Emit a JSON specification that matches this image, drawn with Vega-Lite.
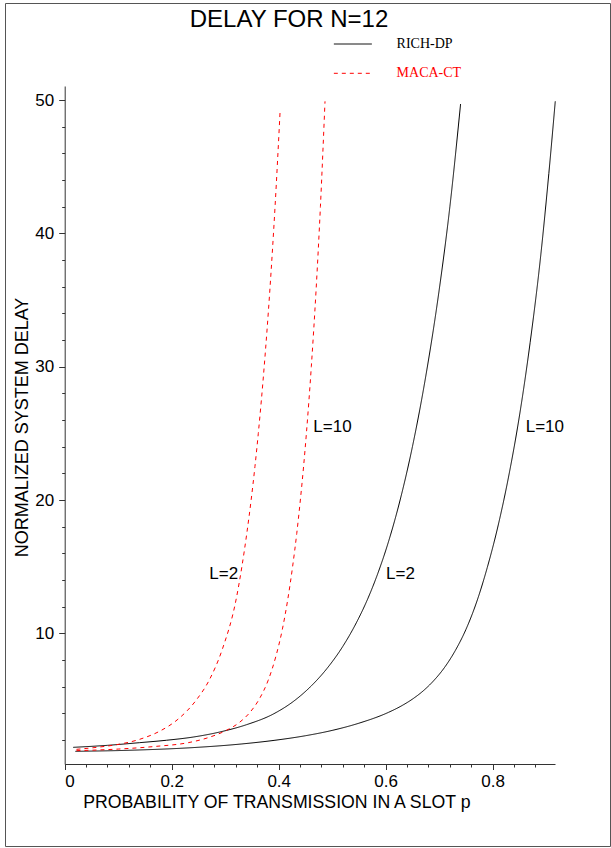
{
  "$schema": "https://vega.github.io/schema/vega-lite/v6.json",
  "autosize": "none",
  "padding": {"left": 5, "top": 3, "right": 1, "bottom": 2},
  "width": 605,
  "height": 843,
  "config": {
    "font": "Liberation Sans",
    "view": {"stroke": "#555", "strokeWidth": 1}
  },
  "datasets": {
    "curves": [
      {"protocol": "RICH-DP", "L": 2, "p": 0.016, "delay": 1.45},
      {"protocol": "RICH-DP", "L": 2, "p": 0.08, "delay": 1.6},
      {"protocol": "RICH-DP", "L": 2, "p": 0.14, "delay": 1.8},
      {"protocol": "RICH-DP", "L": 2, "p": 0.19, "delay": 1.98},
      {"protocol": "RICH-DP", "L": 2, "p": 0.24, "delay": 2.22},
      {"protocol": "RICH-DP", "L": 2, "p": 0.29, "delay": 2.6},
      {"protocol": "RICH-DP", "L": 2, "p": 0.34, "delay": 3.15},
      {"protocol": "RICH-DP", "L": 2, "p": 0.39, "delay": 3.95},
      {"protocol": "RICH-DP", "L": 2, "p": 0.431, "delay": 5.0},
      {"protocol": "RICH-DP", "L": 2, "p": 0.46, "delay": 6.02},
      {"protocol": "RICH-DP", "L": 2, "p": 0.49, "delay": 7.35},
      {"protocol": "RICH-DP", "L": 2, "p": 0.52, "delay": 9.03},
      {"protocol": "RICH-DP", "L": 2, "p": 0.545, "delay": 10.78},
      {"protocol": "RICH-DP", "L": 2, "p": 0.5655, "delay": 12.5},
      {"protocol": "RICH-DP", "L": 2, "p": 0.585, "delay": 14.46},
      {"protocol": "RICH-DP", "L": 2, "p": 0.605, "delay": 16.84},
      {"protocol": "RICH-DP", "L": 2, "p": 0.627, "delay": 20.0},
      {"protocol": "RICH-DP", "L": 2, "p": 0.65, "delay": 24.0},
      {"protocol": "RICH-DP", "L": 2, "p": 0.675, "delay": 29.3},
      {"protocol": "RICH-DP", "L": 2, "p": 0.7, "delay": 35.75},
      {"protocol": "RICH-DP", "L": 2, "p": 0.72, "delay": 42.0},
      {"protocol": "RICH-DP", "L": 2, "p": 0.74, "delay": 49.7},

      {"protocol": "RICH-DP", "L": 10, "p": 0.02, "delay": 1.15},
      {"protocol": "RICH-DP", "L": 10, "p": 0.13, "delay": 1.24},
      {"protocol": "RICH-DP", "L": 10, "p": 0.24, "delay": 1.43},
      {"protocol": "RICH-DP", "L": 10, "p": 0.33, "delay": 1.7},
      {"protocol": "RICH-DP", "L": 10, "p": 0.393, "delay": 1.98},
      {"protocol": "RICH-DP", "L": 10, "p": 0.45, "delay": 2.32},
      {"protocol": "RICH-DP", "L": 10, "p": 0.5, "delay": 2.72},
      {"protocol": "RICH-DP", "L": 10, "p": 0.55, "delay": 3.26},
      {"protocol": "RICH-DP", "L": 10, "p": 0.6056, "delay": 4.08},
      {"protocol": "RICH-DP", "L": 10, "p": 0.63, "delay": 4.57},
      {"protocol": "RICH-DP", "L": 10, "p": 0.653, "delay": 5.15},
      {"protocol": "RICH-DP", "L": 10, "p": 0.67, "delay": 5.68},
      {"protocol": "RICH-DP", "L": 10, "p": 0.69, "delay": 6.46},
      {"protocol": "RICH-DP", "L": 10, "p": 0.71, "delay": 7.44},
      {"protocol": "RICH-DP", "L": 10, "p": 0.73, "delay": 8.7},
      {"protocol": "RICH-DP", "L": 10, "p": 0.75, "delay": 10.29},
      {"protocol": "RICH-DP", "L": 10, "p": 0.7713, "delay": 12.5},
      {"protocol": "RICH-DP", "L": 10, "p": 0.79, "delay": 14.95},
      {"protocol": "RICH-DP", "L": 10, "p": 0.81, "delay": 18.05},
      {"protocol": "RICH-DP", "L": 10, "p": 0.83, "delay": 21.8},
      {"protocol": "RICH-DP", "L": 10, "p": 0.85, "delay": 26.3},
      {"protocol": "RICH-DP", "L": 10, "p": 0.87, "delay": 31.8},
      {"protocol": "RICH-DP", "L": 10, "p": 0.89, "delay": 38.4},
      {"protocol": "RICH-DP", "L": 10, "p": 0.905, "delay": 44.5},
      {"protocol": "RICH-DP", "L": 10, "p": 0.917, "delay": 49.9},

      {"protocol": "MACA-CT", "L": 2, "p": 0.022, "delay": 1.3},
      {"protocol": "MACA-CT", "L": 2, "p": 0.06, "delay": 1.45},
      {"protocol": "MACA-CT", "L": 2, "p": 0.097, "delay": 1.65},
      {"protocol": "MACA-CT", "L": 2, "p": 0.14, "delay": 2.05},
      {"protocol": "MACA-CT", "L": 2, "p": 0.178, "delay": 2.67},
      {"protocol": "MACA-CT", "L": 2, "p": 0.21, "delay": 3.5},
      {"protocol": "MACA-CT", "L": 2, "p": 0.246, "delay": 5.0},
      {"protocol": "MACA-CT", "L": 2, "p": 0.27, "delay": 6.48},
      {"protocol": "MACA-CT", "L": 2, "p": 0.295, "delay": 8.85},
      {"protocol": "MACA-CT", "L": 2, "p": 0.3202, "delay": 12.5},
      {"protocol": "MACA-CT", "L": 2, "p": 0.3312, "delay": 15.0},
      {"protocol": "MACA-CT", "L": 2, "p": 0.3404, "delay": 17.5},
      {"protocol": "MACA-CT", "L": 2, "p": 0.3485, "delay": 20.0},
      {"protocol": "MACA-CT", "L": 2, "p": 0.3556, "delay": 22.5},
      {"protocol": "MACA-CT", "L": 2, "p": 0.3619, "delay": 25.0},
      {"protocol": "MACA-CT", "L": 2, "p": 0.3729, "delay": 30.0},
      {"protocol": "MACA-CT", "L": 2, "p": 0.3835, "delay": 35.75},
      {"protocol": "MACA-CT", "L": 2, "p": 0.3932, "delay": 42.0},
      {"protocol": "MACA-CT", "L": 2, "p": 0.4027, "delay": 49.2},

      {"protocol": "MACA-CT", "L": 10, "p": 0.022, "delay": 1.2},
      {"protocol": "MACA-CT", "L": 10, "p": 0.1, "delay": 1.32},
      {"protocol": "MACA-CT", "L": 10, "p": 0.17, "delay": 1.52},
      {"protocol": "MACA-CT", "L": 10, "p": 0.231, "delay": 1.8},
      {"protocol": "MACA-CT", "L": 10, "p": 0.27, "delay": 2.2},
      {"protocol": "MACA-CT", "L": 10, "p": 0.3, "delay": 2.68},
      {"protocol": "MACA-CT", "L": 10, "p": 0.327, "delay": 3.33},
      {"protocol": "MACA-CT", "L": 10, "p": 0.346, "delay": 4.06},
      {"protocol": "MACA-CT", "L": 10, "p": 0.3634, "delay": 5.05},
      {"protocol": "MACA-CT", "L": 10, "p": 0.38, "delay": 6.44},
      {"protocol": "MACA-CT", "L": 10, "p": 0.395, "delay": 8.31},
      {"protocol": "MACA-CT", "L": 10, "p": 0.407, "delay": 10.33},
      {"protocol": "MACA-CT", "L": 10, "p": 0.4168, "delay": 12.5},
      {"protocol": "MACA-CT", "L": 10, "p": 0.426, "delay": 15.0},
      {"protocol": "MACA-CT", "L": 10, "p": 0.4338, "delay": 17.5},
      {"protocol": "MACA-CT", "L": 10, "p": 0.4405, "delay": 20.0},
      {"protocol": "MACA-CT", "L": 10, "p": 0.4465, "delay": 22.5},
      {"protocol": "MACA-CT", "L": 10, "p": 0.4518, "delay": 25.0},
      {"protocol": "MACA-CT", "L": 10, "p": 0.461, "delay": 30.0},
      {"protocol": "MACA-CT", "L": 10, "p": 0.4699, "delay": 35.75},
      {"protocol": "MACA-CT", "L": 10, "p": 0.478, "delay": 42.0},
      {"protocol": "MACA-CT", "L": 10, "p": 0.4866, "delay": 49.9}
    ],
    "labels": [
      {"label": "L=2", "p": 0.2703, "delay": 14.46},
      {"label": "L=10", "p": 0.4647, "delay": 25.5},
      {"label": "L=2", "p": 0.6006, "delay": 14.46},
      {"label": "L=10", "p": 0.8617, "delay": 25.5}
    ],
    "heading": [
      {"text": "DELAY FOR N=12"}
    ]
  },
  "layer": [
    {
      "data": {"name": "curves"},
      "mark": {"type": "line", "strokeWidth": 1, "interpolate": "monotone"},
      "encoding": {
        "x": {
          "field": "p",
          "type": "quantitative",
          "scale": {"domain": [0, 0.9165], "range": [59.7, 550], "nice": false, "zero": false},
          "axis": {
            "orient": "bottom",
            "offset": -82,
            "values": [0, 0.2, 0.4, 0.6, 0.8],
            "format": "~g",
            "grid": false,
            "domainColor": "#333",
            "tickColor": "#333",
            "tickSize": 5.5,
            "labelFont": "Liberation Sans",
            "labelFontSize": 17,
            "labelColor": "black",
            "labelPadding": 4,
            "labelFlush": true,
            "title": "PROBABILITY OF TRANSMISSION IN A SLOT p",
            "titleFont": "Liberation Sans",
            "titleFontSize": 17.7,
            "titleFontWeight": "normal",
            "titleColor": "black",
            "titleAlign": "left",
            "titleBaseline": "alphabetic",
            "titleX": 77.7,
            "titleY": 43.3
          }
        },
        "y": {
          "field": "delay",
          "type": "quantitative",
          "scale": {"domain": [0.2, 51.05], "range": [761, 83], "nice": false, "zero": false},
          "axis": {
            "orient": "left",
            "offset": -59.7,
            "values": [10, 20, 30, 40, 50],
            "grid": false,
            "domainColor": "#333",
            "tickColor": "#333",
            "tickSize": 6,
            "labelFont": "Liberation Sans",
            "labelFontSize": 17,
            "labelColor": "black",
            "labelPadding": 5,
            "labelFlush": false,
            "title": "NORMALIZED SYSTEM DELAY",
            "titleFont": "Liberation Sans",
            "titleFontSize": 18,
            "titleFontWeight": "normal",
            "titleColor": "black",
            "titleX": -33,
            "titleY": 424
          }
        },
        "color": {
          "field": "protocol",
          "type": "nominal",
          "scale": {"domain": ["RICH-DP", "MACA-CT"], "range": ["black", "#ff0000"]},
          "legend": {
            "orient": "none",
            "legendX": 328.3,
            "legendY": 33.5,
            "title": null,
            "padding": 0,
            "symbolType": "stroke",
            "symbolSize": 1444,
            "symbolStrokeWidth": 1,
            "clipHeight": 15,
            "rowPadding": 14.3,
            "labelOffset": 24.3,
            "labelFont": "Liberation Serif",
            "labelFontSize": 14,
            "encode": {
              "labels": {
                "update": {"fill": {"signal": "datum.label === 'MACA-CT' ? '#ff0000' : 'black'"}}
              }
            }
          }
        },
        "strokeDash": {
          "field": "protocol",
          "type": "nominal",
          "scale": {"domain": ["RICH-DP", "MACA-CT"], "range": [[1, 0], [4, 4]]}
        },
        "detail": {"field": "L", "type": "nominal"}
      }
    },
    {
      "data": {"name": "labels"},
      "mark": {"type": "text", "align": "left", "baseline": "middle", "font": "Liberation Sans", "fontSize": 17, "color": "black"},
      "encoding": {
        "x": {
          "field": "p",
          "type": "quantitative",
          "axis": {
            "orient": "bottom",
            "offset": -82,
            "values": [0.04, 0.08, 0.12, 0.16, 0.24, 0.28, 0.32, 0.36, 0.44, 0.48, 0.52, 0.56, 0.64, 0.68, 0.72, 0.76, 0.84, 0.88],
            "labels": false,
            "domain": false,
            "grid": false,
            "tickColor": "#333",
            "tickSize": 3,
            "title": null
          }
        },
        "y": {
          "field": "delay",
          "type": "quantitative",
          "axis": {
            "orient": "left",
            "offset": -59.7,
            "values": [2, 4, 6, 8, 12, 14, 16, 18, 22, 24, 26, 28, 32, 34, 36, 38, 42, 44, 46, 48],
            "labels": false,
            "domain": false,
            "grid": false,
            "tickColor": "#333",
            "tickSize": 3,
            "title": null
          }
        },
        "text": {"field": "label", "type": "nominal"}
      }
    },
    {
      "data": {"name": "heading"},
      "mark": {"type": "text", "align": "center", "baseline": "alphabetic", "font": "Liberation Sans", "fontSize": 24, "color": "black", "clip": false},
      "encoding": {
        "x": {"datum": 0.4193, "type": "quantitative", "axis": null},
        "y": {"datum": 55.5, "type": "quantitative", "axis": null},
        "text": {"field": "text", "type": "nominal"}
      }
    }
  ],
  "resolve": {"axis": {"x": "independent", "y": "independent"}}
}
